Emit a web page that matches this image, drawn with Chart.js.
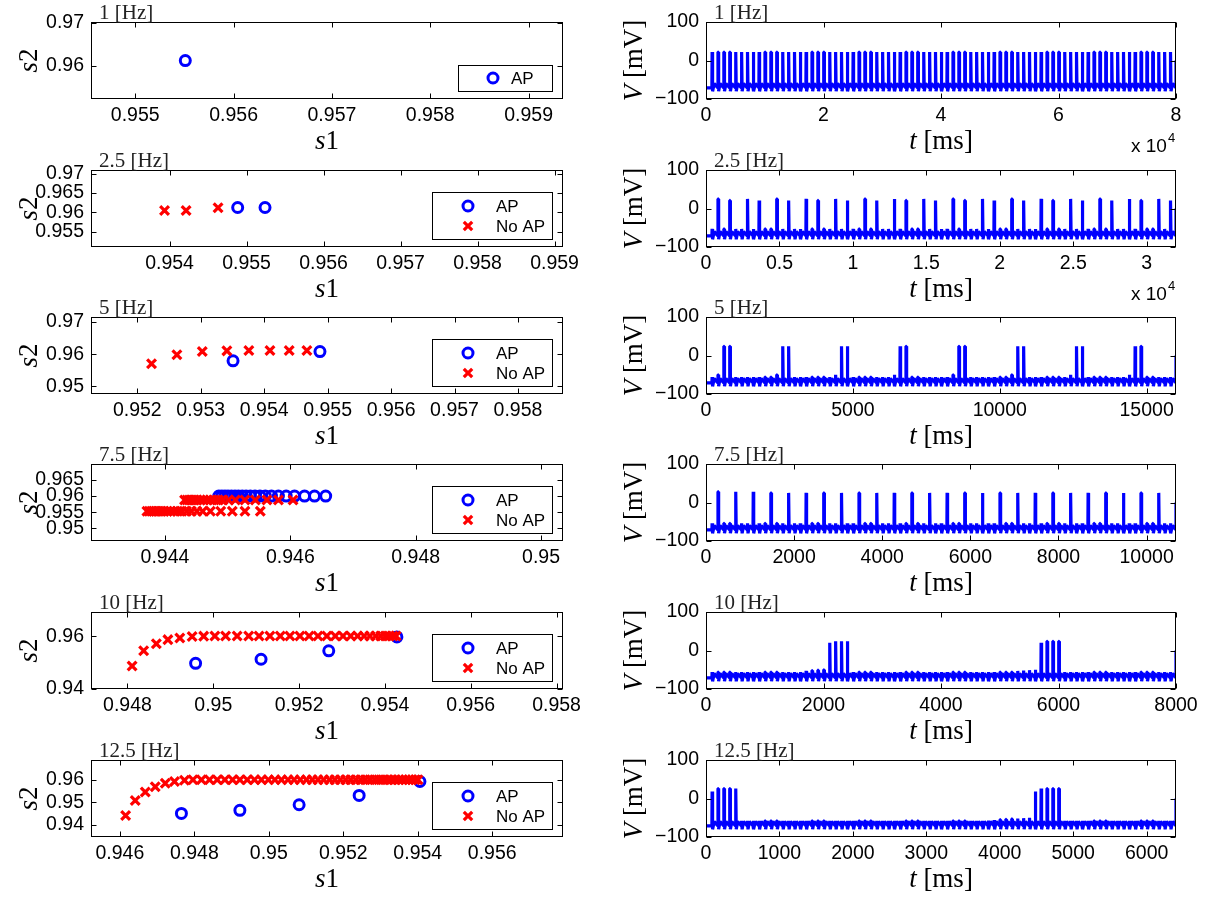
<!DOCTYPE html>
<html><head><meta charset="utf-8">
<script src="https://cdn.jsdelivr.net/npm/chart.js@4.4.1/dist/chart.umd.min.js"></script>
<style>
html,body{margin:0;padding:0;background:#fff;}
#wrap{position:relative;width:1206px;height:899px;overflow:hidden;background:#fff;}
canvas.pc{position:absolute;}
</style></head><body><div id="wrap"></div>
<script>
// ================= DATA =================
const freqLabels = ['1 [Hz]','2.5 [Hz]','5 [Hz]','7.5 [Hz]','10 [Hz]','12.5 [Hz]'];

// ---- left column: s2 vs s1 ----
const p1ApS1 = [0.955509];
const p1ApS2 = [0.96119];
const p1NoS1 = [];
const p1NoS2 = [];
const p1XRange = [0.95455, 0.95935];
const p1YRange = [0.9522, 0.9702];
const p1XTicks = ['0.955','0.956','0.957','0.958','0.959'];
const p1YTicks = ['0.96','0.97'];

const p2ApS1 = [0.954885, 0.955240];
const p2ApS2 = [0.96125, 0.96125];
const p2NoS1 = [0.953935, 0.954215, 0.954630];
const p2NoS2 = [0.96051, 0.96051, 0.96120];
const p2XRange = [0.95298, 0.95911];
const p2YRange = [0.9511, 0.9709];
const p2XTicks = ['0.954','0.955','0.956','0.957','0.958','0.959'];
const p2YTicks = ['0.955','0.96','0.965','0.97'];

const p3ApS1 = [0.953509, 0.954879];
const p3ApS2 = [0.95795, 0.96082];
const p3NoS1 = [0.952224, 0.952624, 0.953024, 0.953412, 0.953758, 0.954091, 0.954394, 0.954673];
const p3NoS2 = [0.95703, 0.95979, 0.96082, 0.96103, 0.96113, 0.96113, 0.96113, 0.96113];
const p3XRange = [0.95127, 0.95871];
const p3YRange = [0.94764, 0.97154];
const p3XTicks = ['0.952','0.953','0.954','0.955','0.956','0.957','0.958'];
const p3YTicks = ['0.95','0.96','0.97'];

const p4ApS1 = [0.944859,0.944908,0.944957,0.945006,0.945061,0.945117,0.945172,0.945233,0.945294,0.945362,
                0.945436,0.945515,0.945601,0.945699,0.945810,0.945933,0.946067,0.946227,0.946386,0.946564];
const p4ApS2 = [0.9600,0.9600,0.9600,0.9600,0.9600,0.9600,0.9600,0.9600,0.9600,0.9600,
                0.9600,0.9600,0.9600,0.9600,0.9600,0.9600,0.9600,0.9600,0.9600,0.9600];
const p4NoS1 = [0.944313,0.944350,0.944387,0.944429,0.944472,0.944515,0.944564,0.944613,0.944669,0.944724,
                0.944785,0.944853,0.944926,0.945012,0.945123,0.945276,0.945442,0.945626,0.945810,0.946043,
                0.943712,0.943748,0.943785,0.943822,0.943859,0.943902,0.943945,0.943988,0.944037,0.944086,
                0.944141,0.944202,0.944270,0.944344,0.944423,0.944509,0.944601,0.944724,0.944890,0.945074,
                0.945276,0.945521];
const p4NoS2 = [0.9588,0.9588,0.9588,0.9588,0.9588,0.9588,0.9588,0.9588,0.9588,0.9588,
                0.9588,0.9588,0.9588,0.9588,0.9588,0.9588,0.9588,0.9588,0.9588,0.9588,
                0.9553,0.9553,0.9553,0.9553,0.9553,0.9553,0.9553,0.9553,0.9553,0.9553,
                0.9553,0.9553,0.9553,0.9553,0.9553,0.9553,0.9553,0.9553,0.9553,0.9553,
                0.9553,0.9553];
const p4XRange = [0.94282, 0.95035];
const p4YRange = [0.9460, 0.9700];
const p4XTicks = ['0.944','0.946','0.948','0.95'];
const p4YTicks = ['0.95','0.955','0.96','0.965'];

const p5ApS1 = [0.949588, 0.951113, 0.952691, 0.954279];
const p5ApS2 = [0.94974, 0.95128, 0.95449, 0.95974];
const p5NoS1 = [0.948108,0.948377,0.948673,0.948942,0.949220,0.949507,0.949776,0.950036,0.950287,0.950556,
                0.950825,0.951067,0.951319,0.951561,0.951785,0.952018,0.952233,0.952440,0.952646,0.952843,
                0.953023,0.953202,0.953363,0.953516,0.953650,0.953785,0.953902,0.954009,0.954099,0.954189,
                0.954260];
const p5NoS2 = [0.94872,0.95449,0.95718,0.95872,0.95936,0.95990,0.96005,0.96010,0.96012,0.96012,
                0.96012,0.96012,0.96012,0.96012,0.96012,0.96012,0.96012,0.96012,0.96012,0.96012,
                0.96012,0.96012,0.96012,0.96012,0.96012,0.96012,0.96012,0.96012,0.96012,0.96012,
                0.96012];
const p5XRange = [0.94715, 0.95815];
const p5YRange = [0.9400, 0.9692];
const p5XTicks = ['0.948','0.95','0.952','0.954','0.956','0.958'];
const p5YTicks = ['0.94','0.96'];

const p6ApS1 = [0.947653, 0.949223, 0.950814, 0.952426, 0.954058];
const p6ApS2 = [0.94508, 0.94646, 0.94892, 0.95308, 0.95923];
const p6NoS1 = [0.946155,0.946413,0.946682,0.946950,0.947219,0.947467,0.947736,0.947963,0.948190,0.948407,
                0.948614,0.948820,0.949027,0.949223,0.949420,0.949616,0.949802,0.949988,0.950163,0.950339,
                0.950515,0.950680,0.950845,0.951011,0.951166,0.951320,0.951475,0.951630,0.951775,0.951920,
                0.952064,0.952199,0.952333,0.952467,0.952591,0.952715,0.952839,0.952953,0.953066,0.953180,
                0.953283,0.953387,0.953490,0.953583,0.953676,0.953769,0.953852,0.953934,0.954006];
const p6NoS2 = [0.94415,0.95077,0.95462,0.95692,0.95846,0.95923,0.95980,0.96000,0.96000,0.96000,
                0.96000,0.96000,0.96000,0.96000,0.96000,0.96000,0.96000,0.96000,0.96000,0.96000,
                0.96000,0.96000,0.96000,0.96000,0.96000,0.96000,0.96000,0.96000,0.96000,0.96000,
                0.96000,0.96000,0.96000,0.96000,0.96000,0.96000,0.96000,0.96000,0.96000,0.96000,
                0.96000,0.96000,0.96000,0.96000,0.96000,0.96000,0.96000,0.96000,0.96000];
const p6XRange = [0.945225, 0.9579];
const p6YRange = [0.93462, 0.96877];
const p6XTicks = ['0.946','0.948','0.95','0.952','0.954','0.956'];
const p6YTicks = ['0.94','0.95','0.96'];

// ---- right column: membrane voltage V(t) ----
// stimulus period (ms), record length (ms), and peak voltage (mV) reached after each stimulus k=1..79
const r1Period = 1000;   const r1TMax = 80000;
const r1Peaks = [22,22,22,22,22,22,22,22,22,22, 22,22,22,22,22,22,22,22,22,22,
                 22,22,22,22,22,22,22,22,22,22, 22,22,22,22,22,22,22,22,22,22,
                 22,22,22,22,22,22,22,22,22,22, 22,22,22,22,22,22,22,22,22,22,
                 22,22,22,22,22,22,22,22,22,22, 22,22,22,22,22,22,22,22,22];
const r2Period = 400;    const r2TMax = 32000;
const r2Peaks = [-53,25,-53,21,-53,-53,25,-53,21,-53, -53,25,-53,21,-53,-53,25,-53,21,-53,
                 -53,25,-53,21,-53,-53,25,-53,21,-53, -53,25,-53,21,-53,-53,25,-53,21,-53,
                 -53,25,-53,21,-53,-53,25,-53,21,-53, -53,25,-53,21,-53,-53,25,-53,21,-53,
                 -53,25,-53,21,-53,-53,25,-53,21,-53, -53,25,-53,21,-53,-53,25,-53,21];
const r3Period = 200;    const r3TMax = 16000;
const r3Peaks = [-56,-50,24,24,-56,-56,-56,-56,-56,-56, -56,-50,24,24,-56,-56,-56,-56,-56,-56,
                 -56,-50,24,24,-56,-56,-56,-56,-56,-56, -56,-50,24,24,-56,-56,-56,-56,-56,-56,
                 -56,-50,24,24,-56,-56,-56,-56,-56,-56, -56,-50,24,24,-56,-56,-56,-56,-56,-56,
                 -56,-50,24,24,-56,-56,-56,-56,-56,-56, -56,-50,24,24,-56,-56,-56,-56,-56];
const r4Period = 133.33; const r4TMax = 10666.7;
const r4Peaks = [-54,28,-54,-54,28,-54,-54,28,-54, -54,25,-54,-54,25,-54,-54,25,-54,-54,25,-54,
                 -54,25,-54,-54,25,-54,-54,25,-54,-54,25,-54,-54,25,-54,-54,25,-54,-54,25,-54,
                 -54,25,-54,-54,25,-54,-54,25,-54,-54,25,-54,-54,25,-54,-54,25,-54,-54,25,-54,
                 -54,25,-54,-54,25,-54,-54,25,-54,-54,25,-54,-54,25,-54,-54];
const r5Period = 100;    const r5TMax = 8000;
const r5Peaks = [-56,-56,-56,-56,-56,-56,-56,-56,-56,-56, -56,-56,-56,-56,-56,-56,-53,-52,-51,-50,
                 20,24,24,24,-56,-56,-56,-56,-56,-56, -56,-56,-56,-56,-56,-56,-56,-56,-56,-56,
                 -56,-56,-56,-56,-56,-56,-56,-56,-56,-56, -56,-56,-53,-52,-51,-50,20,24,24,24,
                 -56,-56,-56,-56,-56,-56,-56,-56,-56,-56, -56,-56,-56,-56,-56,-56,-56,-56,-56];
const r6Period = 80;     const r6TMax = 6400;
const r6Peaks = [18,26,26,26,26,-58,-58,-58,-58,-58, -58,-58,-58,-58,-58,-58,-58,-58,-58,-58,
                 -58,-58,-58,-58,-58,-58,-58,-58,-58,-58, -58,-58,-58,-58,-58,-58,-58,-58,-58,-58,
                 -58,-58,-58,-58,-58,-58,-58,-57,-56,-55, -54,-53,-52,-51,-50,18,26,26,26,26,
                 -58,-58,-58,-58,-58,-58,-58,-58,-58,-58, -58,-58,-58,-58,-58,-58,-58,-58,-58];
// levels of the trace between stimuli (mV)
const vRest = -71, vTrough = -80, vRecover = -60, vEnd = 0;

const r1XTicks = [0,20000,40000,60000,80000];           const r1XLabels = ['0','2','4','6','8'];
const r2XTicks = [0,5000,10000,15000,20000,25000,30000]; const r2XLabels = ['0','0.5','1','1.5','2','2.5','3'];
const r3XTicks = [0,5000,10000,15000];                   const r3XLabels = ['0','5000','10000','15000'];
const r4XTicks = [0,2000,4000,6000,8000,10000];          const r4XLabels = ['0','2000','4000','6000','8000','10000'];
const r5XTicks = [0,2000,4000,6000,8000];                const r5XLabels = ['0','2000','4000','6000','8000'];
const r6XTicks = [0,1000,2000,3000,4000,5000,6000];      const r6XLabels = ['0','1000','2000','3000','4000','5000','6000'];
const vYTicks = [-100,0,100]; const vYLabels = ['\u2212100','0','100'];

// ================= LAYOUT / STYLE =================
const ROW_TOPS = [22,170,317,464,612,760];
const PLOT_H = 77;
const PT = 30, XAXIS_H = 75;
const SANS = "'Liberation Sans', Arial, Helvetica, sans-serif";
const SERIF = "'Liberation Serif', 'DejaVu Serif', serif";
const TICKFONT = {family: SANS, size: 19.5};
const BLUE = '#0000ff', RED = '#ff0000';

const wrap = document.getElementById('wrap');

function drawParts(ctx, parts, size, x, y, rot){
  ctx.save();
  ctx.translate(x, y);
  if (rot) ctx.rotate(-Math.PI/2);
  let total = 0;
  const ws = parts.map(p => { ctx.font = (p[1] ? 'italic ' : '') + size + 'px ' + SERIF; const w = ctx.measureText(p[0]).width; total += w; return w; });
  let cx = -total/2;
  ctx.textAlign = 'left';
  ctx.textBaseline = rot ? 'middle' : 'alphabetic';
  ctx.fillStyle = '#000';
  parts.forEach((p,i) => { ctx.font = (p[1] ? 'italic ' : '') + size + 'px ' + SERIF; ctx.fillText(p[0], cx, 0); cx += ws[i]; });
  ctx.restore();
}

function drawFrame(chart){
  const ctx = chart.ctx, a = chart.chartArea;
  const xs = chart.scales.x, ys = chart.scales.y;
  ctx.save();
  ctx.strokeStyle = '#000'; ctx.lineWidth = 1;
  const L = Math.round(a.left)+0.5, T = Math.round(a.top)+0.5, R = Math.round(a.right)-0.5, B = Math.round(a.bottom)-0.5;
  ctx.strokeRect(L, T, R-L, B-T);
  ctx.beginPath();
  xs.ticks.forEach(t => { const px = Math.round(xs.getPixelForValue(t.value))+0.5;
    ctx.moveTo(px, B); ctx.lineTo(px, B-5); ctx.moveTo(px, T); ctx.lineTo(px, T+5); });
  ys.ticks.forEach(t => { const py = Math.round(ys.getPixelForValue(t.value))+0.5;
    ctx.moveTo(L, py); ctx.lineTo(L+5, py); ctx.moveTo(R, py); ctx.lineTo(R-5, py); });
  ctx.stroke();
  ctx.restore();
}

function drawPanelTitle(chart, text){
  const ctx = chart.ctx, a = chart.chartArea;
  ctx.save();
  ctx.font = '21px ' + SERIF; ctx.fillStyle = '#222'; ctx.textAlign = 'left'; ctx.textBaseline = 'alphabetic';
  ctx.fillText(text, a.left + 8, a.top - 3);
  ctx.restore();
}

function drawLegend(chart, entries){
  const ctx = chart.ctx, a = chart.chartArea;
  const two = entries.length > 1;
  const w = two ? 120 : 94, h = two ? 47 : 26;
  const L = Math.round(a.right - 11 - w), T = Math.round(a.bottom - 8 - h);
  ctx.save();
  ctx.fillStyle = '#fff'; ctx.fillRect(L, T, w, h);
  ctx.strokeStyle = '#000'; ctx.lineWidth = 1; ctx.strokeRect(L+0.5, T+0.5, w, h);
  entries.forEach((e, i) => {
    const cy = T + (two ? 14 + 20*i : 13);
    const mx = L + (two ? 36 : 35);
    if (e === 'AP') {
      ctx.beginPath(); ctx.arc(mx, cy, 5, 0, 2*Math.PI);
      ctx.strokeStyle = BLUE; ctx.lineWidth = 3; ctx.stroke();
    } else {
      const d = 4.2;
      ctx.beginPath(); ctx.moveTo(mx-d, cy-d); ctx.lineTo(mx+d, cy+d); ctx.moveTo(mx+d, cy-d); ctx.lineTo(mx-d, cy+d);
      ctx.strokeStyle = RED; ctx.lineWidth = 3.2; ctx.stroke();
    }
    ctx.fillStyle = '#000'; ctx.font = '17px ' + SANS; ctx.textAlign = 'left'; ctx.textBaseline = 'middle';
    ctx.fillText(e, L + (two ? 64 : 53), cy + 1);
  });
  ctx.restore();
}

function makeCanvas(left, top, w, h){
  const c = document.createElement('canvas');
  c.className = 'pc'; c.width = w; c.height = h;
  c.style.left = left + 'px'; c.style.top = top + 'px';
  c.style.width = w + 'px'; c.style.height = h + 'px';
  wrap.appendChild(c);
  return c;
}

function axisCfg(range, labels, values, fitFn, pad){
  const vals = values || labels.map(Number);
  return {
    type: 'linear', min: range[0], max: range[1],
    afterBuildTicks: s => { s.ticks = vals.map(v => ({value: v})); },
    afterFit: fitFn,
    ticks: { callback: (v, i) => labels[i], font: TICKFONT, color: '#000', padding: pad,
             autoSkip: false, maxRotation: 0, minRotation: 0 },
    grid: { display: false, drawTicks: false },
    border: { display: false }
  };
}

// ---------- scatter panels ----------
const scatterPanels = [
  {title: freqLabels[0], apX: p1ApS1, apY: p1ApS2, noX: p1NoS1, noY: p1NoS2, xr: p1XRange, yr: p1YRange, xt: p1XTicks, yt: p1YTicks, legend: ['AP']},
  {title: freqLabels[1], apX: p2ApS1, apY: p2ApS2, noX: p2NoS1, noY: p2NoS2, xr: p2XRange, yr: p2YRange, xt: p2XTicks, yt: p2YTicks, legend: ['AP','No AP']},
  {title: freqLabels[2], apX: p3ApS1, apY: p3ApS2, noX: p3NoS1, noY: p3NoS2, xr: p3XRange, yr: p3YRange, xt: p3XTicks, yt: p3YTicks, legend: ['AP','No AP']},
  {title: freqLabels[3], apX: p4ApS1, apY: p4ApS2, noX: p4NoS1, noY: p4NoS2, xr: p4XRange, yr: p4YRange, xt: p4XTicks, yt: p4YTicks, legend: ['AP','No AP']},
  {title: freqLabels[4], apX: p5ApS1, apY: p5ApS2, noX: p5NoS1, noY: p5NoS2, xr: p5XRange, yr: p5YRange, xt: p5XTicks, yt: p5YTicks, legend: ['AP','No AP']},
  {title: freqLabels[5], apX: p6ApS1, apY: p6ApS2, noX: p6NoS1, noY: p6NoS2, xr: p6XRange, yr: p6YRange, xt: p6XTicks, yt: p6YTicks, legend: ['AP','No AP']}
];

const LCOL = {canvasLeft: 0, canvasW: 600, plotLeft: 91, plotRight: 563};
const RCOL = {canvasLeft: 600, canvasW: 606, plotLeft: 706, plotRight: 1176};

scatterPanels.forEach((p, i) => {
  const H = PT + PLOT_H + XAXIS_H;
  const c = makeCanvas(LCOL.canvasLeft, ROW_TOPS[i] - PT, LCOL.canvasW, H);
  new Chart(c, {
    type: 'scatter',
    data: { datasets: [
      { label: 'AP', data: p.apX.map((x, k) => ({x: x, y: p.apY[k]})), pointStyle: 'circle', pointRadius: 5,
        pointBorderWidth: 3, pointBorderColor: BLUE, pointBackgroundColor: 'rgba(0,0,0,0)', borderColor: BLUE, order: 1 },
      { label: 'No AP', data: p.noX.map((x, k) => ({x: x, y: p.noY[k]})), pointStyle: 'crossRot', pointRadius: 6.2,
        pointBorderWidth: 3.2, pointBorderColor: RED, pointBackgroundColor: RED, borderColor: RED, order: 0 }
    ]},
    options: {
      responsive: false, animation: false, devicePixelRatio: 1, events: [],
      layout: { padding: { top: PT, right: LCOL.canvasLeft + LCOL.canvasW - LCOL.plotRight, left: 0, bottom: 0 } },
      plugins: { legend: {display: false}, tooltip: {enabled: false}, title: {display: false} },
      scales: {
        x: axisCfg(p.xr, p.xt, null, s => { s.height = XAXIS_H; }, 5),
        y: axisCfg(p.yr, p.yt, null, s => { s.width = LCOL.plotLeft - LCOL.canvasLeft; }, 7)
      }
    },
    plugins: [{
      id: 'decoL' + i,
      afterDraw(chart){
        drawFrame(chart);
        drawPanelTitle(chart, p.title);
        const a = chart.chartArea;
        drawParts(chart.ctx, [['s', true], ['1', false]], 27, (a.left + a.right)/2, a.bottom + 50, false);
        drawParts(chart.ctx, [['s', true], ['2', false]], 27, a.left - 61, (a.top + a.bottom)/2, true);
        drawLegend(chart, p.legend);
      }
    }]
  });
});

// ---------- voltage trace panels ----------
function buildTrace(period, peaks, tmax){
  const pts = [{x: 0, y: vRest}];
  peaks.forEach((pk, k) => {
    const t = (k + 1) * period;
    pts.push({x: t, y: vRest});
    pts.push({x: t + 0.04*period, y: pk});
    pts.push({x: t + 0.09*period, y: pk});
    pts.push({x: t + 0.15*period, y: vTrough});
    pts.push({x: t + 0.40*period, y: vRecover});
  });
  pts.push({x: tmax, y: vRest});
  pts.push({x: tmax, y: vEnd});
  return pts;
}

const tracePanels = [
  {title: freqLabels[0], period: r1Period, peaks: r1Peaks, tmax: r1TMax, xt: r1XTicks, xl: r1XLabels, exp: '4'},
  {title: freqLabels[1], period: r2Period, peaks: r2Peaks, tmax: r2TMax, xt: r2XTicks, xl: r2XLabels, exp: '4'},
  {title: freqLabels[2], period: r3Period, peaks: r3Peaks, tmax: r3TMax, xt: r3XTicks, xl: r3XLabels, exp: null},
  {title: freqLabels[3], period: r4Period, peaks: r4Peaks, tmax: r4TMax, xt: r4XTicks, xl: r4XLabels, exp: null},
  {title: freqLabels[4], period: r5Period, peaks: r5Peaks, tmax: r5TMax, xt: r5XTicks, xl: r5XLabels, exp: null},
  {title: freqLabels[5], period: r6Period, peaks: r6Peaks, tmax: r6TMax, xt: r6XTicks, xl: r6XLabels, exp: null}
];

tracePanels.forEach((p, i) => {
  const H = PT + PLOT_H + XAXIS_H;
  const c = makeCanvas(RCOL.canvasLeft, ROW_TOPS[i] - PT, RCOL.canvasW, H);
  new Chart(c, {
    type: 'line',
    data: { datasets: [{
      label: 'V', data: buildTrace(p.period, p.peaks, p.tmax), parsing: false,
      borderColor: BLUE, borderWidth: 3.2, pointRadius: 0, tension: 0, fill: false,
      borderJoinStyle: 'bevel', borderCapStyle: 'butt'
    }]},
    options: {
      responsive: false, animation: false, devicePixelRatio: 1, events: [],
      layout: { padding: { top: PT, right: RCOL.canvasLeft + RCOL.canvasW - RCOL.plotRight, left: 0, bottom: 0 } },
      plugins: { legend: {display: false}, tooltip: {enabled: false}, title: {display: false} },
      scales: {
        x: axisCfg([0, p.tmax], p.xl, p.xt, s => { s.height = XAXIS_H; }, 5),
        y: axisCfg([-100, 100], vYLabels, vYTicks, s => { s.width = RCOL.plotLeft - RCOL.canvasLeft; }, 7)
      }
    },
    plugins: [{
      id: 'decoR' + i,
      afterDraw(chart){
        drawFrame(chart);
        drawPanelTitle(chart, p.title);
        const a = chart.chartArea, ctx = chart.ctx;
        drawParts(ctx, [['t', true], [' [ms]', false]], 27, (a.left + a.right)/2, a.bottom + 50, false);
        drawParts(ctx, [['V', true], [' [mV]', false]], 27, a.left - 71, (a.top + a.bottom)/2, true);
        if (p.exp) {
          ctx.save();
          ctx.fillStyle = '#000'; ctx.textAlign = 'left'; ctx.textBaseline = 'alphabetic';
          ctx.font = '19px ' + SANS;
          const x0 = a.right - 45;
          ctx.fillText('x 10', x0, a.bottom + 53);
          const w = ctx.measureText('x 10').width;
          ctx.font = '13px ' + SANS;
          ctx.fillText(p.exp, x0 + w + 1, a.bottom + 43);
          ctx.restore();
        }
      }
    }]
  });
});
</script>
</body></html>
